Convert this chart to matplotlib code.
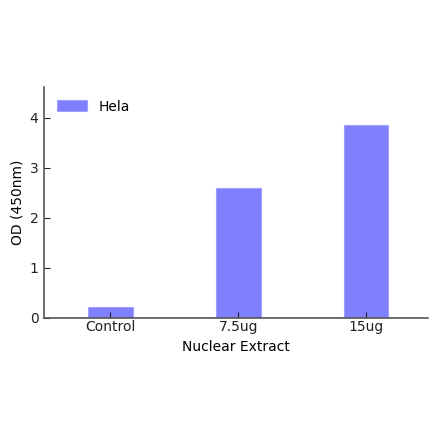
import numpy as np
import matplotlib.pyplot as plt

# datos
categories = ['Control', '7.5ug', '15ug']
od_values = [0.21, 2.59, 3.86]
series_name = 'Hela'

fig = plt.figure(figsize=(4.4, 4.41), dpi=100)
ax = fig.add_axes([0.1, 0.2796, 0.8727, 0.5231])

x = np.arange(len(categories))
ax.bar(x, od_values, width=0.35, color='#8080ff', edgecolor='#a0a0ff',
       linewidth=0.8, label=series_name)

ax.set_xlim(-0.52, 2.485)
ax.set_ylim(0, 4.62)
ax.set_xticks(x)
ax.set_xticklabels(categories)
ax.set_yticks([0, 1, 2, 3, 4])
ax.set_xlabel('Nuclear Extract', fontsize=10)
ax.set_ylabel('OD (450nm)', fontsize=10)

for s in ['top', 'right']:
    ax.spines[s].set_visible(False)
for s in ['left', 'bottom']:
    ax.spines[s].set_color('#555555')
    ax.spines[s].set_linewidth(1.2)
ax.tick_params(direction='in', length=4, labelsize=10, colors='#222222',
               pad=4)
ax.tick_params(axis='x', pad=2)

ax.legend(loc='upper left', frameon=False, fontsize=10,
          handlelength=2.2, handleheight=0.8, borderaxespad=0.5)

fig.savefig('out.png', dpi=100)
